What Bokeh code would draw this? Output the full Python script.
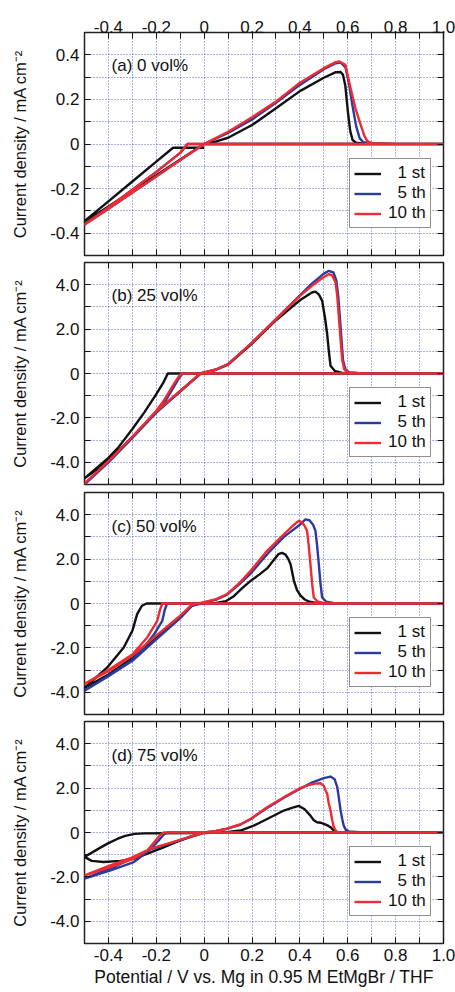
from bokeh.plotting import figure
from bokeh.models import LinearAxis, FixedTicker, Label, Legend, LegendItem, Range1d
from bokeh.layouts import column
from bokeh.embed import file_html
from bokeh.resources import INLINE

FONT = "Liberation Sans"

# ---------------- ticks ----------------
X_TICKS = [-0.4, -0.2, 0.0, 0.2, 0.4, 0.6, 0.8, 1.0]
X_TICK_LABELS = ["-0.4", "-0.2", "0", "0.2", "0.4", "0.6", "0.8", "1.0"]
X_MINOR = [-0.3, -0.1, 0.1, 0.3, 0.5, 0.7, 0.9]

A_Y_TICKS = [-0.4, -0.2, 0.0, 0.2, 0.4]
A_Y_LABELS = ["-0.4", "-0.2", "0", "0.2", "0.4"]
A_Y_MINOR = [-0.3, -0.1, 0.1, 0.3]

Y_TICKS = [-4.0, -2.0, 0.0, 2.0, 4.0]
Y_LABELS = ["-4.0", "-2.0", "0", "2.0", "4.0"]
Y_MINOR = [-3.0, -1.0, 1.0, 3.0]

CYCLES = ["\u20071 st", "\u20075 th", "10 th"]
COLORS = ["#111111", "#2b3a9e", "#ee2b30"]

# ---------------- panel (a) 0 vol% ----------------
A_1ST_X = [0.0, -0.13, -0.2, -0.3, -0.4, -0.5, -0.45, -0.4, -0.3, -0.2, -0.1, 0.0, 0.05, 0.1, 0.2, 0.3,
           0.4, 0.5, 0.55, 0.57, 0.58, 0.59, 0.6, 0.61, 0.62, 0.635, 0.66, 0.7, 0.8, 1.0, 0.5, 0.0]
A_1ST_Y = [-0.017, -0.017, -0.079, -0.168, -0.257, -0.346, -0.315, -0.28, -0.21, -0.14, -0.07, 0.0, 0.012,
           0.028, 0.085, 0.16, 0.237, 0.297, 0.322, 0.323, 0.31, 0.26, 0.15, 0.06, 0.018, 0.006, 0.002,
           0.001, 0.0, 0.0, 0.0, 0.0]
A_5TH_X = [0.0, -0.07, -0.1, -0.2, -0.3, -0.4, -0.5, -0.4, -0.3, -0.2, -0.1, 0.0, 0.1, 0.2, 0.3, 0.4,
           0.5, 0.55, 0.57, 0.59, 0.605, 0.62, 0.635, 0.65, 0.665, 0.7, 0.8, 1.0, 0.5, 0.0]
A_5TH_Y = [0.0, 0.0, -0.04, -0.125, -0.205, -0.285, -0.36, -0.29, -0.217, -0.145, -0.072, 0.0, 0.05,
           0.11, 0.185, 0.265, 0.335, 0.362, 0.365, 0.345, 0.27, 0.17, 0.08, 0.025, 0.008, 0.002, 0.0,
           0.0, 0.0, 0.0]
A_10TH_X = [0.0, -0.07, -0.1, -0.2, -0.3, -0.4, -0.5, -0.4, -0.3, -0.2, -0.1, 0.0, 0.1, 0.2, 0.3, 0.4,
            0.5, 0.55, 0.565, 0.59, 0.611, 0.632, 0.653, 0.67, 0.682, 0.7, 0.8, 1.0, 0.5, 0.0]
A_10TH_Y = [0.0, 0.0, -0.04, -0.125, -0.205, -0.285, -0.362, -0.29, -0.218, -0.146, -0.072, 0.0, 0.055,
            0.12, 0.19, 0.275, 0.34, 0.367, 0.37, 0.355, 0.253, 0.16, 0.089, 0.035, 0.013, 0.004, 0.0,
            0.0, 0.0, 0.0]

# ---------------- panel (b) 25 vol% ----------------
B_1ST_X = [0.0, -0.152, -0.17, -0.2, -0.25, -0.3, -0.36, -0.4, -0.5, -0.4, -0.3, -0.2, -0.1, -0.015,
           0.05, 0.1, 0.2, 0.3, 0.4, 0.45, 0.465, 0.48, 0.493, 0.505, 0.514, 0.522, 0.528, 0.545, 0.58,
           0.7, 1.0, 0.5, 0.0]
B_1ST_Y = [0.0, 0.0, -0.4, -0.93, -1.75, -2.5, -3.35, -3.8, -4.72, -3.95, -2.85, -1.75, -0.8, 0.0,
           0.17, 0.4, 1.35, 2.4, 3.3, 3.65, 3.69, 3.55, 3.27, 2.5, 1.77, 0.9, 0.35, 0.12, 0.02,
           0.0, 0.0, 0.0, 0.0]
B_5TH_X = [0.0, -0.09, -0.105, -0.12, -0.16, -0.2, -0.3, -0.4, -0.5, -0.4, -0.3, -0.2, -0.1, -0.015,
           0.05, 0.1, 0.2, 0.3, 0.4, 0.45, 0.5, 0.52, 0.54, 0.552, 0.56, 0.567, 0.574, 0.58, 0.59, 0.605,
           0.65, 1.0, 0.5, 0.0]
B_5TH_Y = [0.0, 0.0, -0.2, -0.48, -1.2, -1.72, -2.9, -4.0, -5.0, -4.0, -2.9, -1.75, -0.8, 0.0,
           0.18, 0.42, 1.39, 2.45, 3.52, 4.05, 4.5, 4.62, 4.55, 4.2, 3.5, 2.52, 1.5, 0.6, 0.2, 0.05,
           0.01, 0.0, 0.0, 0.0]
B_10TH_X = [0.0, -0.096, -0.11, -0.127, -0.169, -0.2, -0.3, -0.4, -0.5, -0.4, -0.3, -0.2, -0.1, -0.015,
            0.05, 0.1, 0.2, 0.3, 0.4, 0.45, 0.5, 0.52, 0.535, 0.549, 0.556, 0.563, 0.57, 0.577, 0.585,
            0.6, 0.65, 1.0, 0.5, 0.0]
B_10TH_Y = [0.0, 0.0, -0.2, -0.48, -1.23, -1.68, -2.85, -3.95, -4.95, -3.95, -2.85, -1.7, -0.78, 0.0,
            0.18, 0.42, 1.39, 2.44, 3.5, 3.95, 4.35, 4.47, 4.42, 4.1, 3.5, 2.52, 1.5, 0.6, 0.2,
            0.05, 0.01, 0.0, 0.0, 0.0]

# ---------------- panel (c) 50 vol% ----------------
C_1ST_X = [0.0, -0.24, -0.26, -0.28, -0.3, -0.336, -0.405, -0.5, -0.4, -0.3, -0.2, -0.1, -0.05, 0.0,
           0.05, 0.09, 0.124, 0.16, 0.194, 0.23, 0.263, 0.29, 0.31, 0.325, 0.34, 0.352, 0.361, 0.368,
           0.375, 0.388, 0.403, 0.42, 0.44, 0.47, 0.55, 1.0, 0.5, 0.0]
C_1ST_Y = [0.0, 0.0, -0.1, -0.48, -1.23, -1.98, -2.88, -3.8, -3.2, -2.45, -1.5, -0.58, -0.05, 0.0,
           0.03, 0.1, 0.33, 0.7, 1.02, 1.3, 1.58, 1.95, 2.22, 2.28, 2.2, 2.0, 1.77, 1.4,
           1.02, 0.6, 0.35, 0.18, 0.08, 0.03, 0.0, 0.0, 0.0, 0.0]
C_5TH_X = [0.0, -0.155, -0.165, -0.175, -0.21, -0.25, -0.3, -0.4, -0.5, -0.4, -0.3, -0.2, -0.1, -0.05,
           0.0, 0.05, 0.096, 0.15, 0.194, 0.263, 0.333, 0.4, 0.423, 0.44, 0.455, 0.465, 0.472, 0.479,
           0.486, 0.493, 0.51, 0.54, 0.6, 1.0, 0.5, 0.0]
C_5TH_Y = [0.0, 0.0, -0.3, -0.78, -1.4, -1.95, -2.55, -3.25, -3.93, -3.28, -2.58, -1.62, -0.66, -0.1,
           0.05, 0.17, 0.4, 0.9, 1.35, 2.22, 3.0, 3.55, 3.79, 3.75, 3.55, 3.27, 2.6, 1.77,
           0.9, 0.27, 0.08, 0.03, 0.0, 0.0, 0.0, 0.0]
C_10TH_X = [0.0, -0.175, -0.185, -0.196, -0.238, -0.3, -0.4, -0.5, -0.4, -0.3, -0.2, -0.1, -0.05,
            0.0, 0.05, 0.096, 0.15, 0.194, 0.263, 0.333, 0.37, 0.395, 0.41, 0.422, 0.43, 0.437, 0.444,
            0.451, 0.458, 0.475, 0.5, 0.6, 1.0, 0.5, 0.0]
C_10TH_Y = [0.0, 0.0, -0.3, -0.78, -1.53, -2.3, -3.0, -3.62, -3.05, -2.35, -1.45, -0.55, -0.05,
            0.06, 0.2, 0.42, 0.95, 1.47, 2.37, 3.12, 3.5, 3.72, 3.65, 3.45, 3.27, 2.6, 1.77,
            0.9, 0.27, 0.08, 0.03, 0.0, 0.0, 0.0, 0.0]

# ---------------- panel (d) 75 vol% ----------------
D_1ST_X = [0.0, -0.25, -0.29, -0.33, -0.361, -0.4, -0.43, -0.5, -0.47, -0.42, -0.35, -0.291, -0.221,
           -0.18, -0.12, -0.06, 0.0, 0.1, 0.152, 0.207, 0.263, 0.333, 0.37, 0.395, 0.42, 0.444, 0.458,
           0.472, 0.486, 0.5, 0.515, 0.528, 0.54, 0.55, 0.6, 1.0, 0.5, 0.0]
D_1ST_Y = [-0.02, -0.04, -0.06, -0.15, -0.28, -0.48, -0.66, -1.1, -1.28, -1.33, -1.28, -1.18, -0.88,
           -0.72, -0.45, -0.2, -0.02, 0.02, 0.09, 0.31, 0.61, 0.99, 1.12, 1.2, 1.05, 0.76, 0.55,
           0.46, 0.44, 0.39, 0.32, 0.24, 0.1, 0.02, 0.0, 0.0, 0.0, 0.0]
D_5TH_X = [0.0, -0.155, -0.17, -0.19, -0.23, -0.294, -0.391, -0.5, -0.4, -0.3, -0.224, -0.155, -0.085,
           0.0, 0.05, 0.096, 0.15, 0.194, 0.263, 0.333, 0.403, 0.45, 0.5, 0.528, 0.545, 0.556, 0.563,
           0.57, 0.577, 0.583, 0.592, 0.604, 0.65, 1.0, 0.5, 0.0]
D_5TH_Y = [0.0, 0.0, -0.1, -0.36, -0.81, -1.33, -1.71, -2.08, -1.65, -1.17, -0.76, -0.53, -0.3,
           0.0, 0.07, 0.17, 0.35, 0.6, 1.1, 1.57, 1.98, 2.25, 2.45, 2.52, 2.4, 2.04, 1.55,
           0.99, 0.6, 0.31, 0.12, 0.05, 0.01, 0.0, 0.0, 0.0]
D_10TH_X = [0.0, -0.169, -0.185, -0.203, -0.238, -0.294, -0.391, -0.5, -0.4, -0.3, -0.224, -0.155,
            -0.085, 0.0, 0.05, 0.096, 0.15, 0.194, 0.263, 0.333, 0.403, 0.44, 0.465, 0.486, 0.5, 0.507,
            0.514, 0.52, 0.528, 0.535, 0.542, 0.55, 0.56, 0.6, 1.0, 0.5, 0.0]
D_10TH_Y = [0.0, 0.0, -0.12, -0.36, -0.81, -1.18, -1.56, -1.93, -1.52, -1.12, -0.73, -0.51,
            -0.28, 0.0, 0.07, 0.17, 0.36, 0.61, 1.14, 1.59, 2.01, 2.15, 2.2, 2.22, 2.1, 1.9,
            1.74, 1.35, 0.99, 0.55, 0.24, 0.08, 0.02, 0.0, 0.0, 0.0, 0.0]

PANELS = [
    dict(tag="(a) 0 vol%", ylim=(-0.5, 0.5), tag_y=0.35, yt=A_Y_TICKS, yl=A_Y_LABELS, ym=A_Y_MINOR,
         curves=[(A_1ST_X, A_1ST_Y), (A_5TH_X, A_5TH_Y), (A_10TH_X, A_10TH_Y)],
         height=258, top=32, bottom=3, top_labels=True, bottom_labels=False),
    dict(tag="(b) 25 vol%", ylim=(-5.0, 5.0), tag_y=3.5, yt=Y_TICKS, yl=Y_LABELS, ym=Y_MINOR,
         curves=[(B_1ST_X, B_1ST_Y), (B_5TH_X, B_5TH_Y), (B_10TH_X, B_10TH_Y)],
         height=229, top=4, bottom=3, top_labels=False, bottom_labels=False),
    dict(tag="(c) 50 vol%", ylim=(-5.0, 5.0), tag_y=3.45, yt=Y_TICKS, yl=Y_LABELS, ym=Y_MINOR,
         curves=[(C_1ST_X, C_1ST_Y), (C_5TH_X, C_5TH_Y), (C_10TH_X, C_10TH_Y)],
         height=230, top=5, bottom=3, top_labels=False, bottom_labels=False),
    dict(tag="(d) 75 vol%", ylim=(-5.0, 5.0), tag_y=3.45, yt=Y_TICKS, yl=Y_LABELS, ym=Y_MINOR,
         curves=[(D_1ST_X, D_1ST_Y), (D_5TH_X, D_5TH_Y), (D_10TH_X, D_10TH_Y)],
         height=275, top=4, bottom=49, top_labels=False, bottom_labels=True),
]

Y_TITLE = "Current density / mA cm\u207b\u00b2"
X_TITLE = "Potential / V vs. Mg in 0.95 M EtMgBr / THF"


def style_axis(ax):
    ax.axis_line_color = None
    ax.major_tick_in = 6
    ax.major_tick_out = 0
    ax.minor_tick_in = 6
    ax.minor_tick_out = 0
    ax.major_tick_line_color = "#111111"
    ax.minor_tick_line_color = "#111111"
    ax.major_tick_line_width = 1
    ax.minor_tick_line_width = 1
    ax.major_label_text_font = FONT
    ax.major_label_text_color = "#111111"
    ax.major_label_text_font_size = "17px"


def make_axis_ticker(labelled, ticks, minor):
    # unlabelled sides carry every tick as a minor tick, so no label text is drawn
    if labelled:
        return FixedTicker(ticks=ticks, minor_ticks=minor)
    return FixedTicker(ticks=[], minor_ticks=sorted(ticks + minor))


figs = []
for cfg in PANELS:
    p = figure(width=455, height=cfg["height"], x_range=Range1d(-0.5, 1.0),
               y_range=Range1d(*cfg["ylim"]), output_backend="svg", toolbar_location=None,
               min_border_left=84, min_border_right=12, min_border_top=cfg["top"],
               min_border_bottom=cfg["bottom"], background_fill_color="white",
               border_fill_color="white")
    p.outline_line_color = "#222222"
    p.outline_line_width = 1.5

    x_over = dict(zip(X_TICKS, X_TICK_LABELS))
    y_over = dict(zip(cfg["yt"], cfg["yl"]))

    bx = p.xaxis[0]
    bx.ticker = make_axis_ticker(cfg["bottom_labels"], X_TICKS, X_MINOR)
    style_axis(bx)
    if cfg["bottom_labels"]:
        bx.major_label_overrides = x_over
        bx.major_label_standoff = 5
        bx.axis_label = X_TITLE
        bx.axis_label_text_font = FONT
        bx.axis_label_text_font_size = "17.5px"
        bx.axis_label_text_font_style = "normal"
        bx.axis_label_text_color = "#111111"
        bx.axis_label_standoff = 3
    else:
        bx.major_label_standoff = 0

    ly = p.yaxis[0]
    ly.ticker = make_axis_ticker(True, cfg["yt"], cfg["ym"])
    style_axis(ly)
    ly.major_label_overrides = y_over
    ly.major_label_standoff = 5
    ly.axis_label = Y_TITLE
    ly.axis_label_text_font = FONT
    ly.axis_label_text_font_size = "16.5px"
    ly.axis_label_text_font_style = "normal"
    ly.axis_label_text_color = "#111111"
    ly.axis_label_standoff = 18

    tx = LinearAxis(ticker=make_axis_ticker(cfg["top_labels"], X_TICKS, X_MINOR))
    style_axis(tx)
    if cfg["top_labels"]:
        tx.major_label_overrides = x_over
    tx.major_label_standoff = 0
    p.add_layout(tx, "above")

    ry = LinearAxis(ticker=make_axis_ticker(False, cfg["yt"], cfg["ym"]))
    style_axis(ry)
    ry.major_label_standoff = 0
    p.add_layout(ry, "right")

    p.xgrid.ticker = FixedTicker(ticks=sorted(X_TICKS + X_MINOR))
    p.ygrid.ticker = FixedTicker(ticks=sorted(cfg["yt"] + cfg["ym"]))
    for g in (p.xgrid, p.ygrid):
        g.grid_line_color = "#4450bf"
        g.grid_line_width = 1
        g.grid_line_dash = "1 2"
        g.grid_line_alpha = 0.9

    items = []
    for (xs, ys), name, col in zip(cfg["curves"], CYCLES, COLORS):
        r = p.line(xs, ys, line_color=col, line_width=2.4, line_join="round")
        items.append(LegendItem(label=name, renderers=[r]))

    lg = Legend(items=items, location=(265, 27), margin=0, padding=4, spacing=0,
                label_height=17, glyph_height=17, glyph_width=27, label_standoff=7,
                label_text_font=FONT, label_text_font_size="17px", label_text_color="#111111",
                border_line_color="#222222", border_line_width=1.2,
                background_fill_color="white", background_fill_alpha=1.0)
    p.add_layout(lg)

    p.add_layout(Label(x=-0.387, y=cfg["tag_y"], text=cfg["tag"], text_font=FONT,
                       text_font_size="17px", text_baseline="middle", text_color="#111111"))
    figs.append(p)

layout = column(*figs, spacing=0)
open("out.html", "w").write(file_html(layout, INLINE))
